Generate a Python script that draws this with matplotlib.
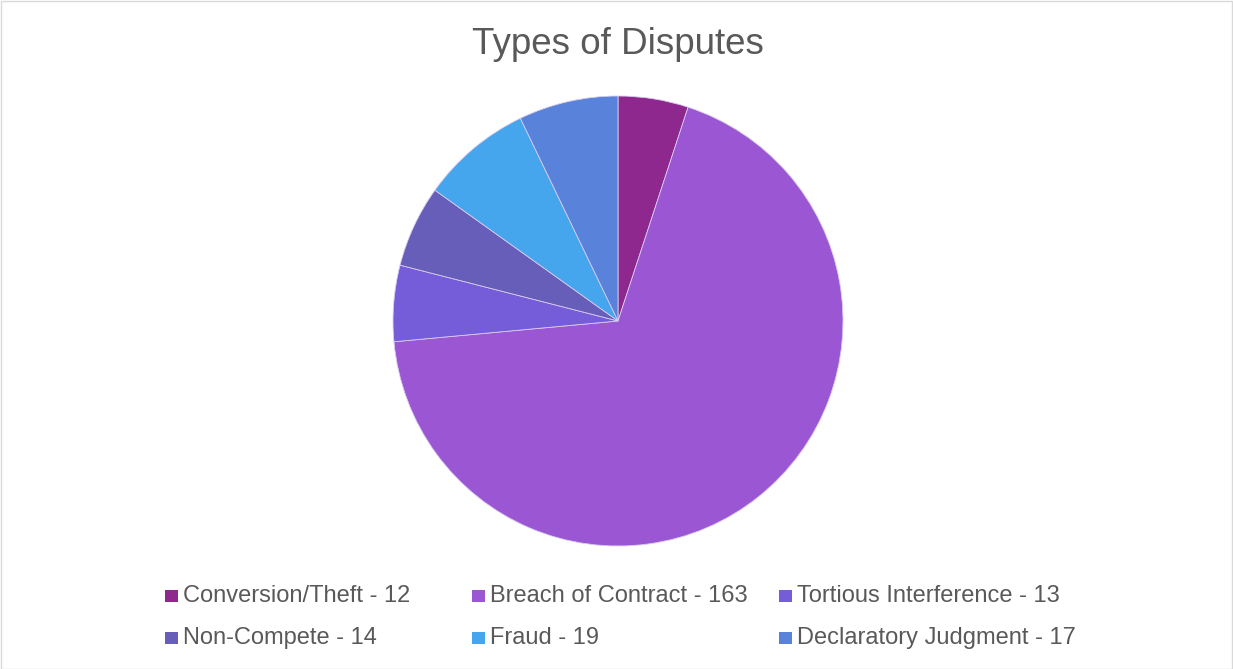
import matplotlib.pyplot as plt
from matplotlib.patches import Rectangle

labels = ["Conversion/Theft", "Breach of Contract", "Tortious Interference",
          "Non-Compete", "Fraud", "Declaratory Judgment"]
values = [12, 163, 13, 14, 19, 17]
colors = ["#8E278E", "#9B57D3", "#755DD9", "#665EB8", "#45A5ED", "#5982DB"]

plt.rcParams['font.family'] = ['Liberation Sans', 'DejaVu Sans']
W, H = 1233, 669
fig = plt.figure(figsize=(W / 100, H / 100), dpi=100)
fig.patch.set_facecolor("white")

# pie centre and radius in pixels
cx, cy, r = 618, 321, 225
ax = fig.add_axes([(cx - r) / W, (H - cy - r) / H, 2 * r / W, 2 * r / H])
ax.pie(values, colors=colors, startangle=90, counterclock=False, radius=1,
       wedgeprops=dict(edgecolor="#D8CCEE", linewidth=0.6))
ax.set_xlim(-1, 1)
ax.set_ylim(-1, 1)
ax.set_aspect("auto")
ax.axis("off")

fig.text(618 / W, 1 - 44 / H, "Types of Disputes", ha="center", va="center",
         fontsize=26.5, color="#595959")

# legend, Excel-like fixed columns
col_x = [165, 472, 779]
row_y = [596, 638]
sq = 12.5
for i, (lab, val, col) in enumerate(zip(labels, values, colors)):
    x = col_x[i % 3]
    y = row_y[i // 3]
    fig.patches.append(Rectangle((x / W, (H - y - sq / 2) / H), sq / W, sq / H,
                                 transform=fig.transFigure, facecolor=col,
                                 edgecolor="none"))
    fig.text((x + sq + 5.5) / W, (H - y) / H, f"{lab} - {val}", ha="left",
             va="center", fontsize=17, color="#595959")

fig.patches.append(Rectangle((0.5 / W, 0.5 / H), 1 - 1.5 / W, 1 - 1.5 / H,
                             transform=fig.transFigure, facecolor="none",
                             edgecolor="#D9D9D9", linewidth=1))

fig.savefig("out.png", dpi=100)
